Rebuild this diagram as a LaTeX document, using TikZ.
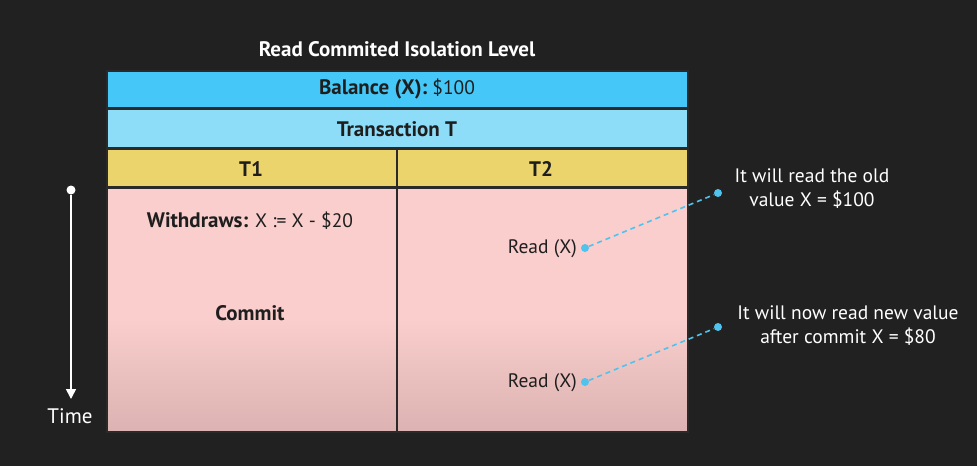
\documentclass[tikz,border=0pt]{standalone}
\usepackage{fontspec}
\setmainfont{PT Sans}
\usetikzlibrary{arrows.meta}
\definecolor{bg}{HTML}{212121}
\definecolor{balc}{HTML}{45C8F8}
\definecolor{transc}{HTML}{8EDDF8}
\definecolor{yel}{HTML}{ECD46C}
\definecolor{pinktop}{HTML}{F9CECC}
\definecolor{pinkbot}{HTML}{DCB3B2}
\definecolor{dotc}{HTML}{4FC3EE}
\definecolor{txt}{HTML}{1E1E1E}
\definecolor{edge}{HTML}{2A2A2A}
\newcommand{\bsz}{\bfseries\fontsize{21}{24}\selectfont}
\newcommand{\rsz}{\fontsize{19.5}{24}\selectfont}
\tikzset{
  bar/.style={draw=edge, line width=1.5pt},
  lbl/.style={font=\rsz, text=txt, inner sep=0pt},
  blbl/.style={font=\bsz, text=txt, inner sep=0pt},
  note/.style={font=\rsz, text=white, align=center, inner sep=0pt},
  conn/.style={dotc, dashed, dash pattern=on 5pt off 4pt, line width=1.6pt},
  dotn/.style={circle, fill=dotc, inner sep=0pt, minimum size=8pt},
}
\begin{document}
\begin{tikzpicture}[x=1pt,y=-1pt]
\fill[bg] (0,0) rectangle (977,466);
\useasboundingbox (0,0) rectangle (977,466);
% title
\node[blbl, text=white] (title) at (397,49) {Read Commited Isolation Level};
% bars
\draw[bar, fill=balc] (107,71) rectangle (688,108);
\node[lbl] (bal) at (397,89) {{\bsz Balance (X):} \$100};
\draw[bar, fill=transc] (107,109) rectangle (688,148);
\node[blbl] (trans) at (397,129) {Transaction T};
\draw[bar, fill=yel] (107,149) rectangle (688,187);
\draw[edge, line width=1.5pt] (397,149) -- (397,187);
\node[blbl] (t1) at (251,169) {T1};
\node[blbl] (t2) at (541,169) {T2};
% body
\fill[pinktop] (107,188) rectangle (688,320);
\shade[top color=pinktop, bottom color=pinkbot] (107,319) rectangle (688,432);
\draw[edge, line width=1.5pt] (107,188) rectangle (688,432);
\draw[edge, line width=2pt] (397,188) -- (397,432);
% T1 column
\node[lbl] (wd) at (250,221) {{\bsz Withdraws:} X := X - \$20};
\node[blbl] (commit) at (250,313) {Commit};
% T2 column
\node[lbl, anchor=east] (r1) at (577,249) {Read (X)};
\node[lbl, anchor=east] (r2) at (577,383) {Read (X)};
\node[dotn] (d1) at (585,248) {};
\node[dotn] (d2) at (585,382) {};
\node[dotn] (e1) at (718,193) {};
\node[dotn] (e2) at (718,327) {};
\draw[conn] (d1) -- (e1);
\draw[conn] (d2) -- (e2);
\node[note] (n1) at (812,189) {It will read the old\\value X = \$100};
\node[note] (n2) at (848,326) {It will now read new value\\after commit X = \$80};
% time arrow
\node[circle, fill=white, inner sep=0pt, minimum size=9pt] (ts) at (71,190) {};
\coordinate (te) at (71,399);
\draw[white, line width=1.6pt, -{Triangle[width=10pt,length=10pt]}] (ts) -- (te);
\node[font=\fontsize{21}{24}\selectfont, text=white, inner sep=0pt] (time) at (70,416) {Time};
\end{tikzpicture}
\end{document}
